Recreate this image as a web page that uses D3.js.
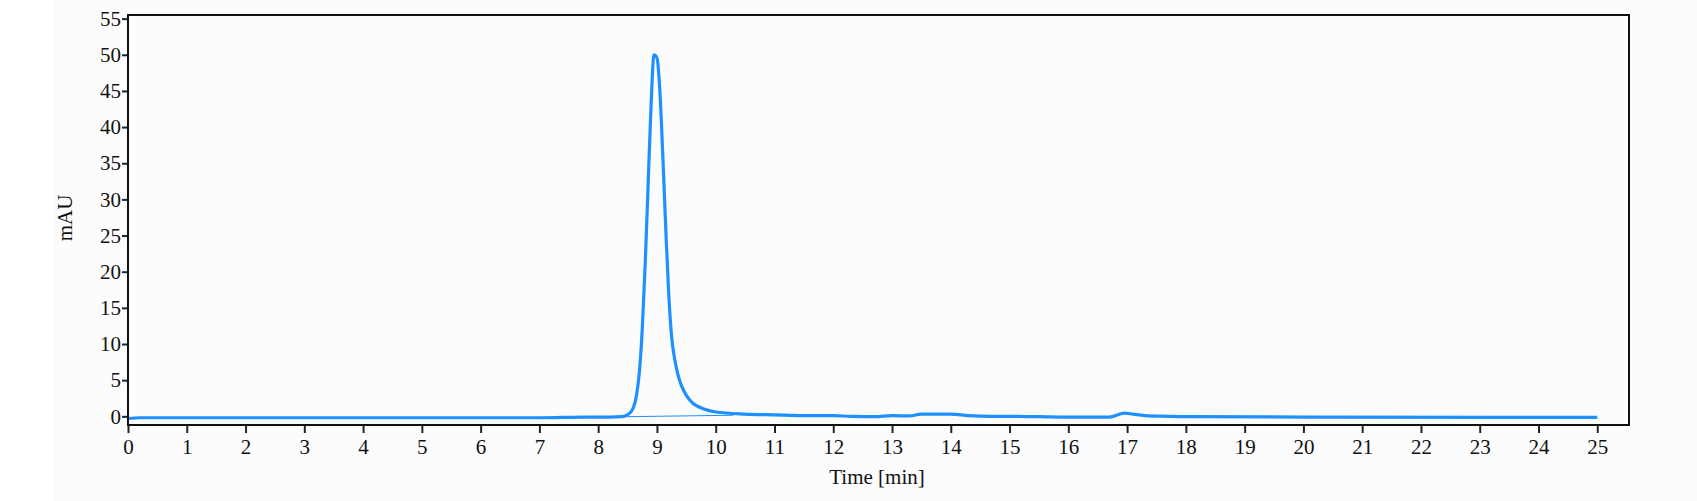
<!DOCTYPE html><html><head><meta charset="utf-8"><script src="https://cdn.jsdelivr.net/npm/d3@7"></script>
<style>body{margin:0;background:#fff}text{font-family:"Liberation Serif","DejaVu Serif",serif}</style></head><body><svg id="c" width="1697" height="501"></svg>
<script>
const time=[0,0.2,1,2,3,4,5,6,7,7.8,8.2,8.4,8.5,8.6,8.65,8.7,8.75,8.8,8.85,8.9,8.95,9.0,9.05,9.1,9.15,9.2,9.25,9.3,9.35,9.4,9.5,9.6,9.8,10,10.5,11,11.5,12,12.3,12.7,13,13.3,13.5,14,14.3,14.7,15,15.5,16,16.7,16.8,16.95,17.1,17.3,17.7,18,20,25];
const mau=[-0.3,-0.2,-0.2,-0.2,-0.2,-0.2,-0.2,-0.2,-0.2,-0.1,-0.1,-0.05,0.2,1.2,2.8,6,12,21,32,43,50,49.6,45,36,26,17,11,8,6,4.6,2.9,1.9,1.0,0.6,0.3,0.2,0.1,0.1,0,-0.05,0.1,0.05,0.3,0.3,0.1,0,0,-0.05,-0.1,-0.1,0.1,0.45,0.3,0.1,0,-0.05,-0.1,-0.15];
const baseT=[8.5,10.3], baseV=[-0.05,0.15];
const xTicks=d3.range(0,26), yTicks=d3.range(0,56,5);
const svg=d3.select("#c");
svg.append("rect").attr("x",54).attr("y",0).attr("width",1643).attr("height",501).attr("fill","#fcfcfc");
const L=128,T=15,W=1501,H=410;
const x=d3.scaleLinear().domain([0,25.54]).range([L,L+W]);
const y=d3.scaleLinear().domain([-1.2,55.5]).range([T+H,T]);
const g=svg.append("g");
g.append("g").attr("transform",`translate(0,${T+H})`).call(d3.axisBottom(x).tickValues(xTicks).tickSize(8).tickFormat(d3.format("d")))
 .call(a=>{a.select(".domain").remove();a.selectAll("line").attr("stroke","#1a2533").attr("stroke-width",2);a.selectAll("text").attr("font-size",21).attr("fill","#111").attr("dy","0.85em");});
g.append("g").attr("transform",`translate(${L},0)`).call(d3.axisLeft(y).tickValues(yTicks).tickSize(6).tickFormat(d3.format("d")))
 .call(a=>{a.select(".domain").remove();a.selectAll("line").attr("stroke","#1a2533").attr("stroke-width",2);a.selectAll("text").attr("font-size",21).attr("fill","#111").attr("x",-7);});
svg.append("line").attr("x1",x(baseT[0])).attr("x2",x(baseT[1])).attr("y1",y(baseV[0])).attr("y2",y(baseV[1])).attr("stroke","#1e90ff").attr("stroke-width",1);
svg.append("path").datum(time.map((t,i)=>[t,mau[i]])).attr("fill","none").attr("stroke","#1e90ff").attr("stroke-width",3.2)
 .attr("d",d3.line().x(d=>x(d[0])).y(d=>y(d[1])).curve(d3.curveMonotoneX));
svg.append("rect").attr("x",L).attr("y",T).attr("width",W).attr("height",H).attr("fill","none").attr("stroke","#111").attr("stroke-width",2);
svg.append("text").attr("x",877).attr("y",484).attr("text-anchor","middle").attr("font-size",21).attr("fill","#111").text("Time [min]");
svg.append("text").attr("transform","translate(72,218) rotate(-90)").attr("text-anchor","middle").attr("font-size",21).attr("fill","#111").text("mAU");
</script></body></html>
